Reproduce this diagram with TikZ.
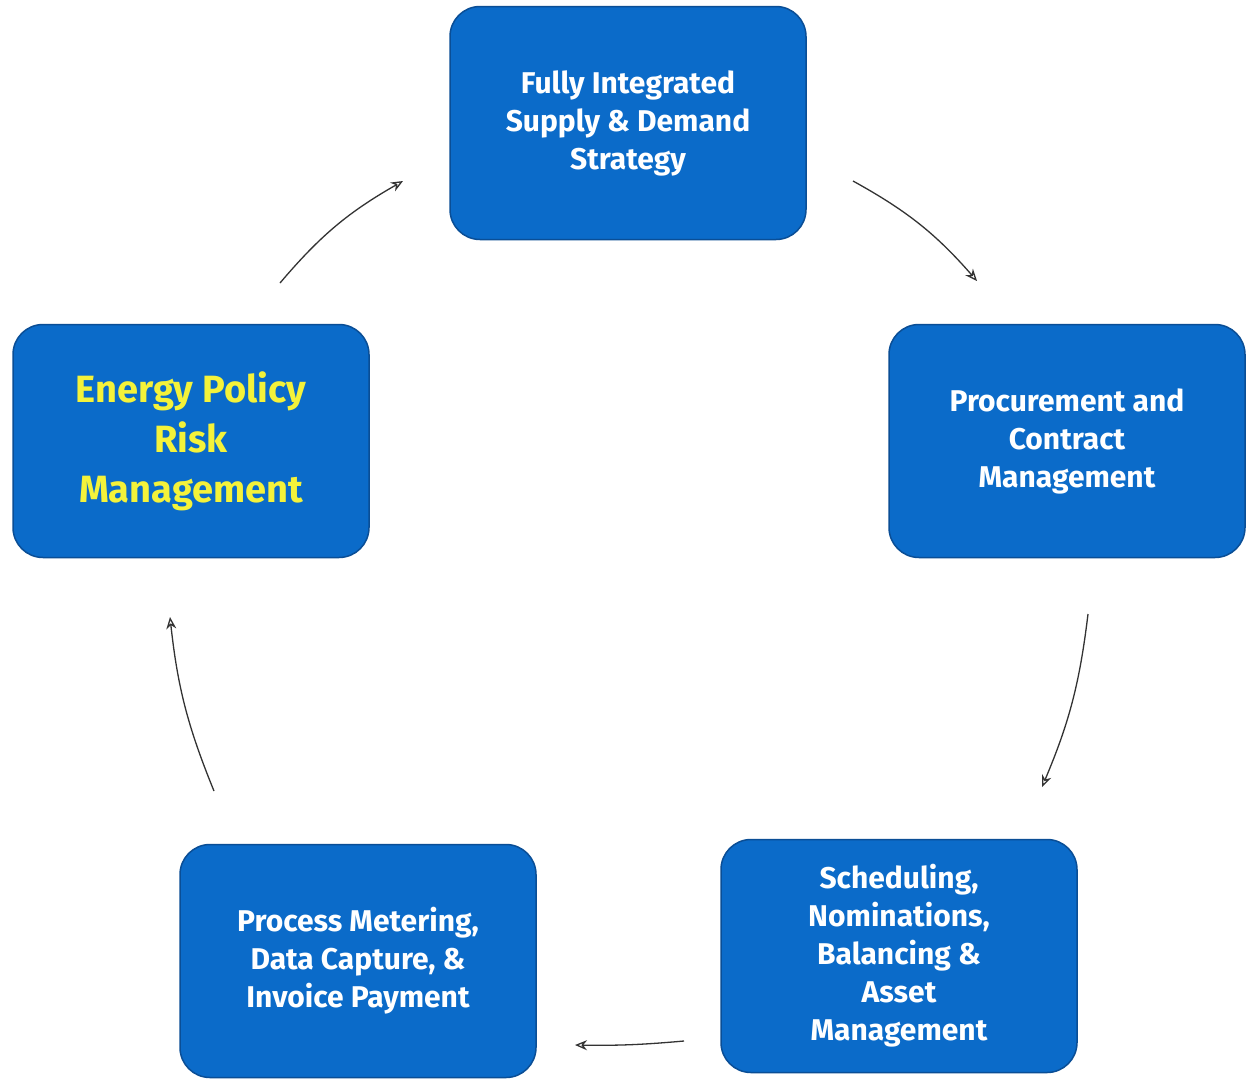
\documentclass[tikz,border=0pt]{standalone}
\usepackage{fontspec}
\setmainfont{Fira Sans}
\usetikzlibrary{arrows.meta}
\definecolor{boxblue}{HTML}{0B6BC9}
\definecolor{boxedge}{HTML}{0A4E96}
\definecolor{txtyellow}{HTML}{F4F23A}
\begin{document}
\begin{tikzpicture}[x=1pt,y=-1pt,
  card/.style={draw=boxedge,line width=1.5pt,fill=boxblue,rounded corners=30pt,minimum width=356pt,minimum height=233pt,align=center,text=white,font=\fontsize{30}{38}\selectfont\bfseries},
  flow/.style={-{Stealth[open,length=12pt,width=10pt]},line width=1.3pt,draw=black!80}]
\useasboundingbox (0,0) rectangle (1256,1085);
\fill[white] (0,0) rectangle (1256,1085);
\node[card] (top) at (628,123) {Fully Integrated\\Supply \& Demand\\Strategy};
\node[card] (right) at (1067,441) {Procurement and\\Contract\\Management};
\node[card] (br) at (899,956) {Scheduling,\\Nominations,\\Balancing \&\\Asset\\Management};
\node[card] (bl) at (358,961) {Process Metering,\\Data Capture, \&\\Invoice Payment};
\node[card,text=txtyellow,font=\fontsize{38}{50}\selectfont\bfseries] (left) at (191,441) {Energy Policy\\Risk\\Management};
\coordinate (a1) at (280,283); \coordinate (a2) at (403,181);
\coordinate (b1) at (853,181); \coordinate (b2) at (977,281);
\coordinate (c1) at (1088,614); \coordinate (c2) at (1042,787);
\coordinate (d1) at (684,1041); \coordinate (d2) at (575,1045);
\coordinate (e1) at (214,791); \coordinate (e2) at (170,617);
\draw[flow] (a1) to[bend left=10] (a2);
\draw[flow] (b1) to[bend left=10] (b2);
\draw[flow] (c1) to[bend left=8] (c2);
\draw[flow] (d1) to[bend left=3] (d2);
\draw[flow] (e1) to[bend left=8] (e2);
\end{tikzpicture}
\end{document}
